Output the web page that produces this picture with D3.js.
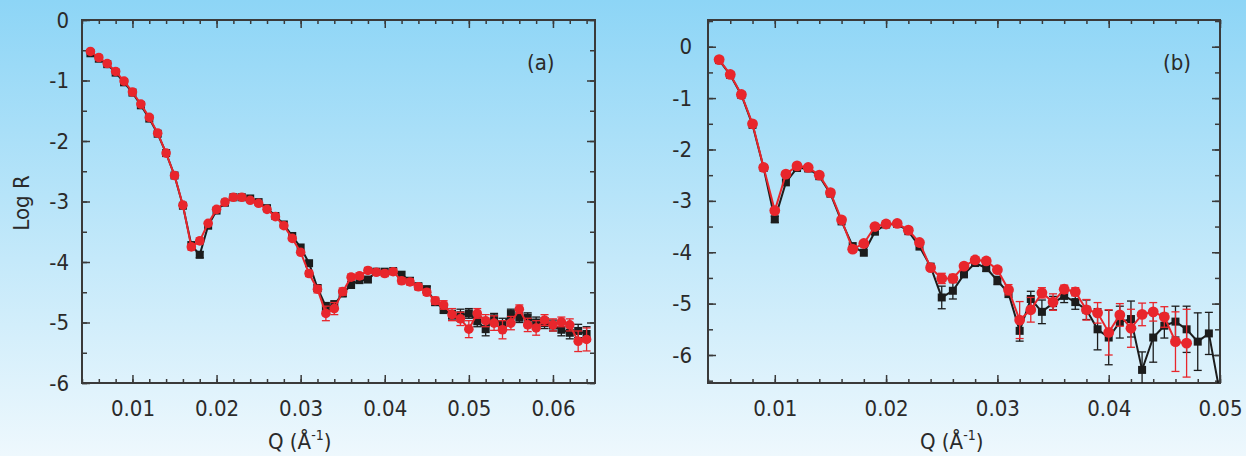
<!DOCTYPE html>
<html>
<head>
<meta charset="utf-8">
<script src="https://cdn.jsdelivr.net/npm/d3@7"></script>
<style>
  body { margin: 0; }
  svg text { font-family: "Liberation Sans Narrow", "DejaVu Sans Condensed", "Roboto", sans-serif; fill: #2a2a2a; }
</style>
</head>
<body>
<script>
// panel (a) data
const qA = [0.005, 0.006, 0.007, 0.008, 0.009, 0.010, 0.011, 0.012, 0.013, 0.014,
            0.015, 0.016, 0.017, 0.018, 0.019, 0.020, 0.021, 0.022, 0.023, 0.024,
            0.025, 0.026, 0.027, 0.028, 0.029, 0.030, 0.031, 0.032, 0.033, 0.034,
            0.035, 0.036, 0.037, 0.038, 0.039, 0.040, 0.041, 0.042, 0.043, 0.044,
            0.045, 0.046, 0.047, 0.048, 0.049, 0.050, 0.051, 0.052, 0.053, 0.054,
            0.055, 0.056, 0.057, 0.058, 0.059, 0.060, 0.061, 0.062, 0.063, 0.064];
const blackA = [-0.55, -0.64, -0.73, -0.87, -1.03, -1.20, -1.41, -1.63, -1.88, -2.20,
                -2.57, -3.07, -3.72, -3.88, -3.40, -3.15, -3.02, -2.93, -2.93, -2.95,
                -3.01, -3.11, -3.24, -3.38, -3.57, -3.76, -4.02, -4.43, -4.74, -4.71,
                -4.52, -4.38, -4.30, -4.29, -4.16, -4.16, -4.15, -4.21, -4.31, -4.40,
                -4.45, -4.66, -4.78, -4.88, -4.88, -4.85, -4.98, -5.11, -4.93, -5.03,
                -4.86, -4.92, -4.92, -5.00, -5.01, -5.05, -5.12, -5.17, -5.14, -5.19];
const blackErrA = [0.02, 0.02, 0.02, 0.02, 0.02, 0.02, 0.02, 0.02, 0.02, 0.02,
                   0.02, 0.03, 0.04, 0.05, 0.03, 0.02, 0.02, 0.02, 0.02, 0.02,
                   0.02, 0.02, 0.02, 0.03, 0.03, 0.03, 0.04, 0.05, 0.07, 0.07,
                   0.05, 0.04, 0.04, 0.04, 0.04, 0.04, 0.04, 0.04, 0.04, 0.04,
                   0.05, 0.06, 0.07, 0.08, 0.10, 0.08, 0.09, 0.11, 0.08, 0.10,
                   0.08, 0.08, 0.08, 0.09, 0.09, 0.09, 0.10, 0.10, 0.11, 0.12];
const redA = [-0.52, -0.62, -0.72, -0.85, -1.01, -1.19, -1.39, -1.61, -1.87, -2.20,
              -2.57, -3.06, -3.75, -3.65, -3.36, -3.13, -3.01, -2.93, -2.93, -2.98,
              -3.03, -3.13, -3.25, -3.40, -3.61, -3.84, -4.19, -4.45, -4.85, -4.77,
              -4.49, -4.25, -4.23, -4.14, -4.17, -4.19, -4.16, -4.31, -4.33, -4.41,
              -4.50, -4.64, -4.71, -4.87, -4.94, -5.11, -4.85, -4.97, -5.01, -5.12,
              -5.01, -4.78, -5.04, -5.09, -4.96, -5.04, -4.99, -5.04, -5.31, -5.28];
const redErrA = [0.02, 0.02, 0.02, 0.02, 0.02, 0.02, 0.02, 0.02, 0.02, 0.02,
                 0.02, 0.03, 0.05, 0.05, 0.03, 0.02, 0.02, 0.02, 0.02, 0.02,
                 0.02, 0.02, 0.02, 0.03, 0.03, 0.04, 0.05, 0.06, 0.12, 0.10,
                 0.06, 0.05, 0.05, 0.05, 0.05, 0.05, 0.05, 0.05, 0.05, 0.05,
                 0.05, 0.06, 0.07, 0.10, 0.11, 0.14, 0.08, 0.10, 0.12, 0.15,
                 0.11, 0.07, 0.11, 0.12, 0.09, 0.10, 0.08, 0.10, 0.17, 0.19];

// panel (b) data
const qB = [0.005, 0.006, 0.007, 0.008, 0.009, 0.010, 0.011, 0.012, 0.013, 0.014,
            0.015, 0.016, 0.017, 0.018, 0.019, 0.020, 0.021, 0.022, 0.023, 0.024,
            0.025, 0.026, 0.027, 0.028, 0.029, 0.030, 0.031, 0.032, 0.033, 0.034,
            0.035, 0.036, 0.037, 0.038, 0.039, 0.040, 0.041, 0.042, 0.043, 0.044,
            0.045, 0.046, 0.047, 0.048, 0.049, 0.050];
const blackB = [-0.26, -0.55, -0.94, -1.52, -2.36, -3.36, -2.64, -2.36, -2.37, -2.52,
                -2.86, -3.40, -3.88, -4.01, -3.60, -3.46, -3.45, -3.59, -3.89, -4.28,
                -4.88, -4.75, -4.43, -4.21, -4.31, -4.55, -4.80, -5.53, -4.91, -5.16,
                -4.99, -4.85, -4.97, -5.12, -5.50, -5.66, -5.36, -5.30, -6.29, -5.66,
                -5.43, -5.35, -5.50, -5.74, -5.58, -6.75];
const blackErrB = [0.03, 0.03, 0.03, 0.03, 0.03, 0.06, 0.04, 0.04, 0.04, 0.04,
                   0.04, 0.04, 0.04, 0.04, 0.04, 0.04, 0.04, 0.04, 0.04, 0.04,
                   0.22, 0.16, 0.06, 0.05, 0.06, 0.08, 0.08, 0.20, 0.15, 0.23,
                   0.13, 0.13, 0.14, 0.19, 0.40, 0.53, 0.31, 0.35, 0.35, 0.48,
                   0.24, 0.30, 0.45, 0.56, 0.41, 0];
const redB = [-0.25, -0.54, -0.93, -1.50, -2.35, -3.19, -2.48, -2.32, -2.35, -2.50,
              -2.84, -3.37, -3.94, -3.83, -3.50, -3.45, -3.44, -3.57, -3.81, -4.30,
              -4.51, -4.51, -4.27, -4.15, -4.17, -4.34, -4.73, -5.32, -5.12, -4.79,
              -4.97, -4.72, -4.77, -5.12, -5.18, -5.56, -5.22, -5.48, -5.21, -5.16,
              -5.26, -5.74, -5.77];
const redErrB = [0.03, 0.03, 0.03, 0.03, 0.03, 0.04, 0.03, 0.03, 0.03, 0.03,
                 0.03, 0.03, 0.06, 0.05, 0.04, 0.04, 0.04, 0.04, 0.04, 0.05,
                 0.10, 0.08, 0.05, 0.05, 0.05, 0.06, 0.10, 0.36, 0.24, 0.10,
                 0.16, 0.08, 0.08, 0.20, 0.20, 0.44, 0.22, 0.37, 0.22, 0.18,
                 0.20, 0.58, 0.66];

// tick labels
const xTicksA = [0.01, 0.02, 0.03, 0.04, 0.05, 0.06];
const xTicksB = [0.01, 0.02, 0.03, 0.04, 0.05];
const yTicks = [0, -1, -2, -3, -4, -5, -6];

const W = 1246, H = 456;
const RED = "#e8262c", BLACK = "#1c1c1c", AXIS = "#3a3a3a";

const svg = d3.select("body").append("svg").attr("width", W).attr("height", H);

const grad = svg.append("defs").append("linearGradient")
  .attr("id", "bg").attr("x1", 0).attr("y1", 0).attr("x2", 0).attr("y2", 1);
grad.append("stop").attr("offset", "0%").attr("stop-color", "#8dd5f6");
grad.append("stop").attr("offset", "100%").attr("stop-color", "#eef8fd");
svg.append("rect").attr("width", W).attr("height", H).attr("fill", "url(#bg)");

function panel(opt) {
  const x = d3.scaleLinear().domain(opt.xd).range([opt.left, opt.right]);
  const y = d3.scaleLinear().domain(opt.yd).range([opt.bottom, opt.top]);
  const g = svg.append("g");

  svg.select("defs").append("clipPath").attr("id", opt.id)
    .append("rect").attr("x", opt.left).attr("y", opt.top)
    .attr("width", opt.right - opt.left).attr("height", opt.bottom - opt.top);

  const xMinor = x.ticks(30), yMinor = y.ticks(14);
  const tick = (sel) => {
    sel.selectAll(".domain").remove();
    sel.selectAll("line").attr("stroke", AXIS).attr("stroke-width", 1.5);
    sel.selectAll("text").attr("font-size", 22).attr("fill", "#2a2a2a");
  };

  // minor ticks on all sides
  g.append("g").attr("transform", `translate(0,${opt.bottom})`)
    .call(d3.axisBottom(x).tickValues(xMinor).tickFormat("").tickSizeInner(-4).tickSizeOuter(0)).call(tick);
  g.append("g").attr("transform", `translate(0,${opt.top})`)
    .call(d3.axisTop(x).tickValues(xMinor).tickFormat("").tickSizeInner(-4).tickSizeOuter(0)).call(tick);
  g.append("g").attr("transform", `translate(${opt.left},0)`)
    .call(d3.axisLeft(y).tickValues(yMinor).tickFormat("").tickSizeInner(-5).tickSizeOuter(0)).call(tick);
  g.append("g").attr("transform", `translate(${opt.right},0)`)
    .call(d3.axisRight(y).tickValues(yMinor).tickFormat("").tickSizeInner(-5).tickSizeOuter(0)).call(tick);

  // major ticks + labels
  g.append("g").attr("transform", `translate(0,${opt.bottom})`)
    .call(d3.axisBottom(x).tickValues(opt.xTicks).tickFormat(d3.format(".2f")).tickSizeInner(-8).tickSizeOuter(0).tickPadding(17)).call(tick);
  g.append("g").attr("transform", `translate(0,${opt.top})`)
    .call(d3.axisTop(x).tickValues(opt.xTicks).tickFormat("").tickSizeInner(-8).tickSizeOuter(0)).call(tick);
  g.append("g").attr("transform", `translate(${opt.left},0)`)
    .call(d3.axisLeft(y).tickValues(yTicks).tickFormat(d3.format("d")).tickSizeInner(-8).tickSizeOuter(0).tickPadding(opt.yPad)).call(tick);
  g.append("g").attr("transform", `translate(${opt.right},0)`)
    .call(d3.axisRight(y).tickValues(yTicks).tickFormat("").tickSizeInner(-8).tickSizeOuter(0)).call(tick);
  g.selectAll("text").text(function () { return this.textContent.replace("−", "-"); });

  g.append("rect").attr("x", opt.left).attr("y", opt.top)
    .attr("width", opt.right - opt.left).attr("height", opt.bottom - opt.top)
    .attr("fill", "none").attr("stroke", AXIS).attr("stroke-width", 2);

  const plot = svg.append("g").attr("clip-path", `url(#${opt.id})`);
  const line = d3.line().x(d => x(d.q)).y(d => y(d.v));

  opt.series.forEach(s => {
    const pts = s.v.map((v, i) => ({ q: opt.q[i], v: v, e: s.e[i] }));
    plot.append("path").datum(pts).attr("d", line)
      .attr("fill", "none").attr("stroke", s.color).attr("stroke-width", 2);
    const eb = plot.append("g").attr("stroke", s.color).attr("stroke-width", 1.3);
    eb.selectAll("line.v").data(pts.filter(d => d.e > 0)).join("line")
      .attr("x1", d => x(d.q)).attr("x2", d => x(d.q))
      .attr("y1", d => y(d.v - d.e)).attr("y2", d => y(d.v + d.e));
    eb.selectAll("line.t").data(pts.filter(d => d.e > 0.04)).join("line")
      .attr("x1", d => x(d.q) - 4).attr("x2", d => x(d.q) + 4)
      .attr("y1", d => y(d.v + d.e)).attr("y2", d => y(d.v + d.e));
    eb.selectAll("line.b").data(pts.filter(d => d.e > 0.04)).join("line")
      .attr("x1", d => x(d.q) - 4).attr("x2", d => x(d.q) + 4)
      .attr("y1", d => y(d.v - d.e)).attr("y2", d => y(d.v - d.e));
    if (s.shape === "square") {
      plot.append("g").selectAll("rect").data(pts).join("rect")
        .attr("x", d => x(d.q) - 4).attr("y", d => y(d.v) - 4)
        .attr("width", 8).attr("height", 8).attr("fill", s.color);
    } else {
      plot.append("g").selectAll("circle").data(pts).join("circle")
        .attr("cx", d => x(d.q)).attr("cy", d => y(d.v))
        .attr("r", opt.r).attr("fill", s.color);
    }
  });

  svg.append("text").attr("x", opt.tagX).attr("y", 70).attr("font-size", 22).text(opt.tag);

  const xl = svg.append("text").attr("x", opt.xLabelX).attr("y", 449).attr("font-size", 22);
  xl.append("tspan").text("Q (Å");
  xl.append("tspan").attr("font-size", 14).attr("dy", -9).text("-1");
  xl.append("tspan").attr("dy", 9).text(")");
}

panel({
  id: "clipA", q: qA, xd: [0.004, 0.065], yd: [-6, 0],
  left: 82, right: 595, top: 20, bottom: 383, r: 4.8, yPad: 13,
  xTicks: xTicksA, tag: "(a)", tagX: 527, xLabelX: 268,
  series: [
    { v: blackA, e: blackErrA, color: BLACK, shape: "square" },
    { v: redA, e: redErrA, color: RED, shape: "circle" }
  ]
});

panel({
  id: "clipB", q: qB, xd: [0.004, 0.05], yd: [-6.545, 0.52],
  left: 708, right: 1220, top: 20, bottom: 383, r: 5.4, yPad: 16,
  xTicks: xTicksB, tag: "(b)", tagX: 1163, xLabelX: 920,
  series: [
    { v: blackB, e: blackErrB, color: BLACK, shape: "square" },
    { v: redB, e: redErrB, color: RED, shape: "circle" }
  ]
});

svg.append("text").attr("transform", "translate(29,203) rotate(-90)")
  .attr("text-anchor", "middle").attr("font-size", 22).text("Log R");
</script>
</body>
</html>
